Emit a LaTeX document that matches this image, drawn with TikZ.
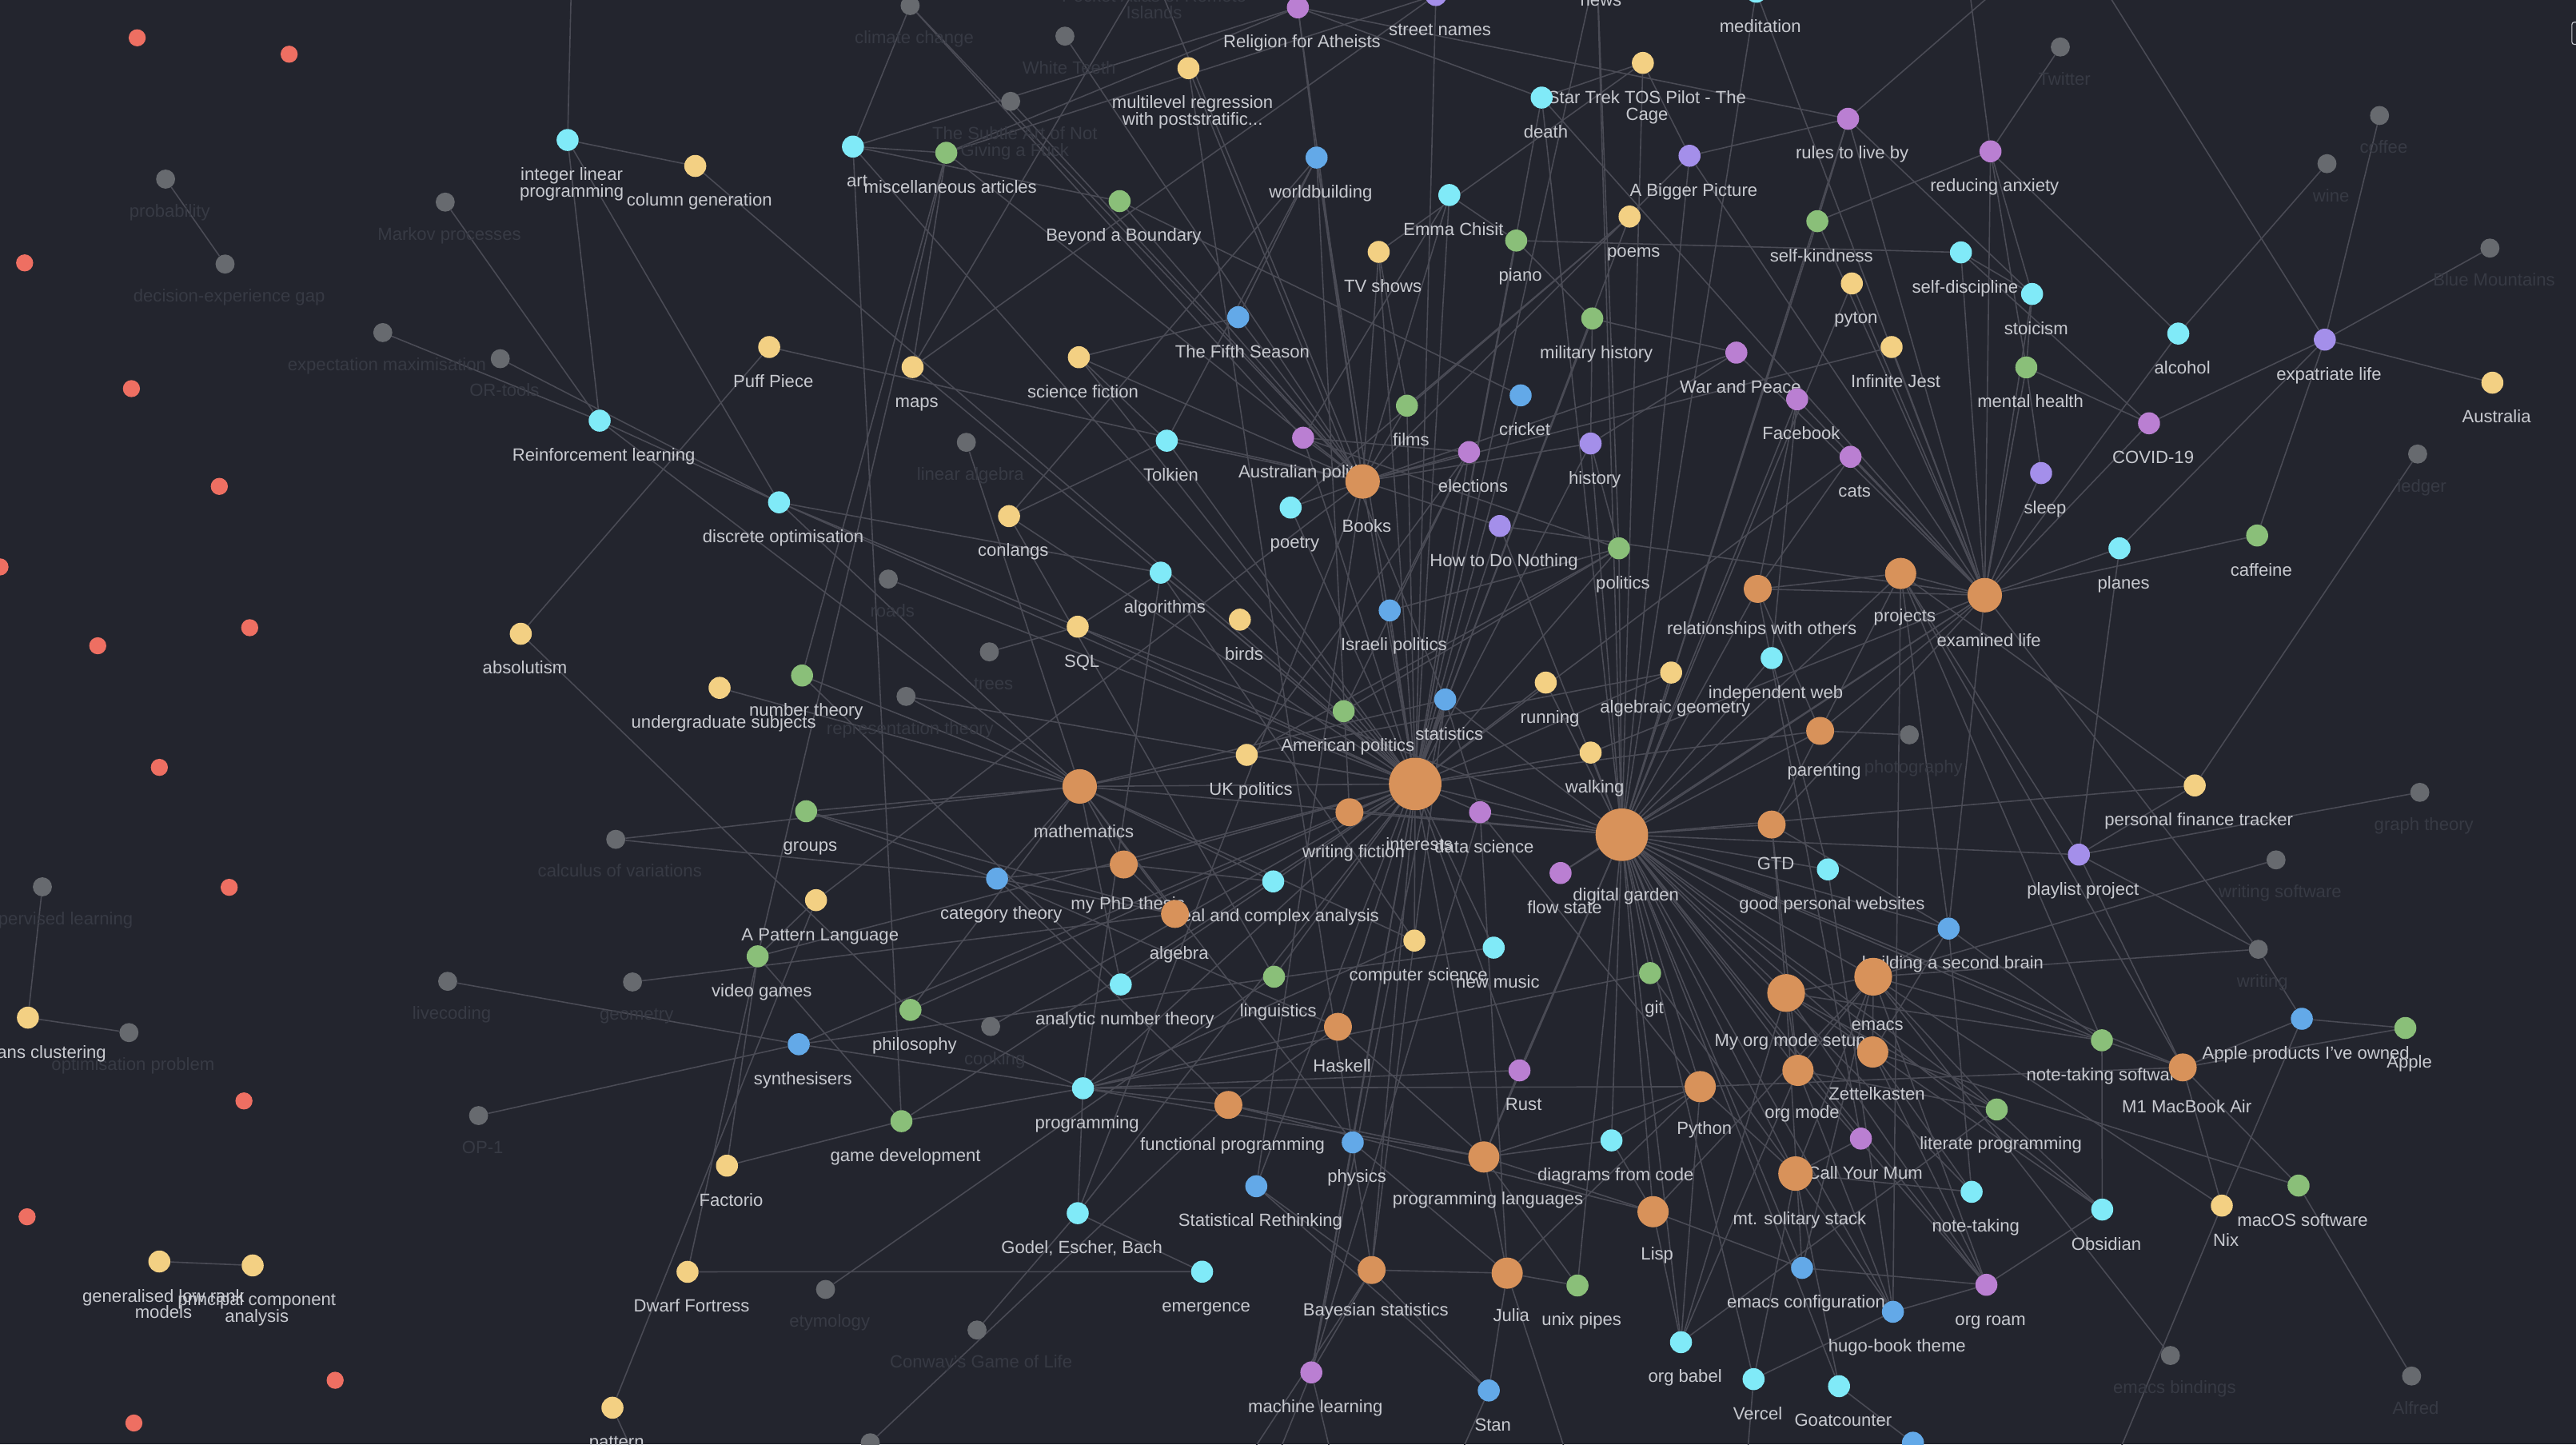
\documentclass[tikz,border=0pt]{standalone}
\usepackage{fontspec}
\setmainfont{Liberation Sans}
\usepackage{tikz}
\definecolor{bgcol}{HTML}{23252E}
\definecolor{edgecol}{HTML}{4A4B55}
\definecolor{lbltext}{HTML}{C8CAD0}
\definecolor{dimtext}{HTML}{373A44}
\definecolor{cOrange}{HTML}{D8925A}
\definecolor{cCyan}{HTML}{80EAF8}
\definecolor{cBlue}{HTML}{63A9E8}
\definecolor{cYellow}{HTML}{F3D083}
\definecolor{cGreen}{HTML}{8ABF79}
\definecolor{cMagenta}{HTML}{BA7FD2}
\definecolor{cViolet}{HTML}{A48FEA}
\definecolor{cGray}{HTML}{676A6F}
\definecolor{cRed}{HTML}{EE6F62}
\pgfdeclarelayer{background}
\pgfdeclarelayer{edges}
\pgfsetlayers{background,edges,main}
\tikzset{%
    r8/.style={minimum size=8.5mm},
    r9/.style={minimum size=9.5mm},
    r10/.style={minimum size=10.5mm},
    r11/.style={minimum size=11.5mm},
    r16/.style={minimum size=16mm},
    dot/.style={circle, inner sep=0pt, fill=#1, minimum size=6.7mm},
    gdot/.style={dot=cGray, minimum size=5.8mm},
    lbl/.style={font={\fontsize{15.3pt}{14.5pt}\selectfont}, text=lbltext,
        inner sep=0pt, anchor=base, xshift=1.25mm},
    l6/.style={lbl, yshift=-8.85mm},
    lg/.style={lbl, yshift=-8.55mm, text=dimtext},
    l8/.style={lbl, yshift=-9.5mm},
    l9/.style={lbl, yshift=-9.8mm},
    l10/.style={lbl, yshift=-10.2mm},
    l11/.style={lbl, yshift=-10.5mm},
    l16/.style={lbl, yshift=-12.1mm},
    t6/.style={lbl, anchor=north, align=center, yshift=-4.9mm},
    tg/.style={lbl, anchor=north, align=center, yshift=-4.6mm, text=dimtext},
    conn/.style={draw=edgecol, line width=1.1pt}
}
\begin{document}
\begin{tikzpicture}[x=0.05cm,y=-0.05cm]
    \useasboundingbox (0,0) rectangle (1568,879);
    \begin{pgfonlayer}{background}
    \fill[bgcol] (0,0) rectangle (1568,879);
    \end{pgfonlayer}
    \draw[lbltext, line width=0.8pt, rounded corners=2pt] (1565.5,13.5) rectangle (1580,27);

    % orphans
    \foreach \i/\x/\y in {1/83.5/23, 2/176/33, 3/15/160, 4/80/236.5, 5/133.5/296,
        6/0/345, 7/152/382, 8/59.5/393, 9/97/467, 10/139.5/540, 11/148.5/670,
        12/16.5/740.5, 13/204/840, 14/81.5/866}
    {
    \node[dot=cRed, minimum size=5.2mm] (red\i) at (\x,\y) {};
    }

    % unresolved links
    \node[gdot, label={[lg]below:climate change}] (clim) at (554,3.4) {};
    \node[gdot, label={[tg]below:{Pocket Atlas of Remote\\Islands}}] (atlas) at (700,-22) {};
    \node[gdot, label={[lg]below:White Teeth}] (wteeth) at (648.2,22) {};
    \node[gdot, label={[tg]below:{The Subtle Art of Not\\Giving a Fuck}}] (subtle) at (615.2,61.7) {};
    \node[gdot, label={[lg]below:linear algebra}] (linalg) at (588.2,269.2) {};
    \node[gdot, label={[lg]below:probability}] (prob) at (100.8,109) {};
    \node[gdot, label={[lg]below:decision-experience gap}] (deg) at (137,160.7) {};
    \node[gdot, label={[lg]below:Markov processes}] (markov) at (271,123) {};
    \node[gdot, label={[lg]below:expectation maximisation}] (em) at (233,202.4) {};
    \node[gdot, label={[lg]below:OR-tools}] (ortools) at (304.5,218.3) {};
    \node[gdot, label={[lg]below:roads}] (roads) at (540.7,352.4) {};
    \node[gdot, label={[lg]below:trees}] (trees) at (602.2,396.7) {};
    \node[gdot, label={[lg]below:representation theory}] (reprth) at (551.5,423.8) {};
    \node[gdot, label={[lg]below:calculus of variations}] (calcvar) at (374.8,510.8) {};
    \node[gdot, label={[lg]below:unsupervised learning}] (unsup) at (25.8,539.7) {};
    \node[gdot, label={[lg]below:optimisation problem}] (optprob) at (78.5,628.4) {};
    \node[gdot, label={[lg]below:livecoding}] (livecod) at (272.5,597.2) {};
    \node[gdot, label={[lg]below:geometry}] (geom) at (385,597.6) {};
    \node[gdot, label={[lg]below:OP-1}] (op1) at (291.3,678.9) {};
    \node[gdot, label={[lg]below:cooking}] (cooking) at (603,624.7) {};
    \node[gdot, label={[lg]below:etymology}] (etym) at (502.5,784.7) {};
    \node[gdot, label={[lg]below:Conway's Game of Life}] (conway) at (594.7,809.4) {};
    \node[gdot] (gbot) at (529.7,878) {};
    \node[gdot, label={[lg]below:Twitter}] (twitter) at (1254.1,28.6) {};
    \node[gdot, label={[lg]below:coffee}] (coffee) at (1448.4,70.3) {};
    \node[gdot, label={[lg]below:wine}] (wine) at (1416.4,99.6) {};
    \node[gdot, label={[lg]below:Blue Mountains}] (bluemt) at (1515.6,151) {};
    \node[gdot, label={[lg]below:ledger}] (ledger) at (1471.6,276.3) {};
    \node[gdot, label={[lg]below:photography}] (photo) at (1162.2,447.2) {};
    \node[gdot, label={[lg]below:graph theory}] (graphth) at (1472.9,482.2) {};
    \node[gdot, label={[lg]below:writing software}] (writsw) at (1385.4,523.3) {};
    \node[gdot, label={[lg]below:writing}] (writing) at (1374.6,577.7) {};
    \node[gdot, label={[lg]below:emacs bindings}] (ebind) at (1321.1,824.9) {};
    \node[gdot, label={[lg]below:Alfred}] (alfred) at (1467.9,837.4) {};

    % yellow notes
    \node[dot=cYellow, label={[t6]below:{Star Trek TOS Pilot - The\\Cage}}] (startrek) at (1000,38.3) {};
    \node[dot=cYellow, label={[t6]below:{multilevel regression\\with poststratific...}}] (multilevel) at (723.4,41.5) {};
    \node[dot=cYellow, label={[l6]below:column generation}] (colgen) at (423.2,101) {};
    \node[dot=cYellow, label={[l6]below:Puff Piece}] (puff) at (468.2,211.2) {};
    \node[dot=cYellow, label={[l6]below:maps}] (maps) at (555.5,223.4) {};
    \node[dot=cYellow, label={[l6]below:science fiction}] (scifi) at (656.7,217.4) {};
    \node[dot=cYellow, label={[l6]below:TV shows}] (tvshows) at (839.2,153.3) {};
    \node[dot=cYellow, label={[l6]below:poems}] (poems) at (991.9,131.8) {};
    \node[dot=cYellow, label={[l6]below:pyton}] (pyton) at (1127.2,172.5) {};
    \node[dot=cYellow, label={[l6]below:Infinite Jest}] (infjest) at (1151.4,211.2) {};
    \node[dot=cYellow, label={[l6]below:Australia}] (australia) at (1517.1,232.9) {};
    \node[dot=cYellow, label={[l6]below:conlangs}] (conlangs) at (614.2,314.1) {};
    \node[dot=cYellow, label={[l6]below:SQL}] (sql) at (656,381.4) {};
    \node[dot=cYellow, label={[l6]below:birds}] (birds) at (754.7,377.1) {};
    \node[dot=cYellow, label={[l6]below:absolutism}] (absol) at (317,385.7) {};
    \node[dot=cYellow, label={[l6]below:undergraduate subjects}] (undergrad) at (438,418.6) {};
    \node[dot=cYellow, label={[l6]below:UK politics}] (ukpol) at (758.9,459.4) {};
    \node[dot=cYellow, label={[l6]below:running}] (running) at (940.9,415.4) {};
    \node[dot=cYellow, label={[l6]below:algebraic geometry}] (alggeom) at (1017.2,409.3) {};
    \node[dot=cYellow, label={[l6]below:walking}] (walking) at (968.2,458) {};
    \node[dot=cYellow, label={[l6]below:personal finance tracker}] (pft) at (1335.9,478) {};
    \node[dot=cYellow, label={[l6]below:A Pattern Language}] (patlang) at (496.7,547.8) {};
    \node[dot=cYellow, label={[l6]below:computer science}] (compsci) at (860.9,572.4) {};
    \node[dot=cYellow, label={[l6]below:k-means clustering}] (kmeans) at (17,619.3) {};
    \node[dot=cYellow, label={[l6]below:Factorio}] (factorio) at (442.5,709.4) {};
    \node[dot=cYellow, label={[l6]below:Dwarf Fortress}] (dwarf) at (418.5,774) {};
    \node[dot=cYellow, label={[t6]below:{generalised low rank\\models}}] (glrm) at (97,767.7) {};
    \node[dot=cYellow, label={[t6]below:{principal component\\analysis}}] (pca) at (153.8,770.1) {};
    \node[dot=cYellow, label={[l6]below:pattern}] (pattern) at (372.8,856.7) {};
    \node[dot=cYellow, label={[l6]below:Nix}] (nix) at (1352.4,733.7) {};

    % cyan notes
    \node[dot=cCyan, label={[t6]below:{integer linear\\programming}}] (ilp) at (345.5,85.2) {};
    \node[dot=cCyan, label={[l6]below:Reinforcement learning}] (rl) at (365,256) {};
    \node[dot=cCyan, label={[l6]below:art}] (art) at (519.2,89.2) {};
    \node[dot=cCyan, label={[l6]below:death}] (death) at (938.4,59.4) {};
    \node[dot=cCyan, label={[l6]below:Emma Chisit}] (emma) at (882.2,118.7) {};
    \node[dot=cCyan, label={[l6]below:meditation}] (meditation) at (1069,-5) {};
    \node[dot=cCyan, label={[l6]below:news}] (news) at (972,-21) {};
    \node[dot=cCyan, label={[l6]below:self-discipline}] (selfdisc) at (1193.6,153.6) {};
    \node[dot=cCyan, label={[l6]below:stoicism}] (stoic) at (1236.9,178.9) {};
    \node[dot=cCyan, label={[l6]below:alcohol}] (alcohol) at (1325.9,203) {};
    \node[dot=cCyan, label={[l6]below:discrete optimisation}] (discopt) at (474.2,305.7) {};
    \node[dot=cCyan, label={[l6]below:Tolkien}] (tolkien) at (710.2,268.2) {};
    \node[dot=cCyan, label={[l6]below:poetry}] (poetry) at (785.6,308.9) {};
    \node[dot=cCyan, label={[l6]below:algorithms}] (algos) at (706.5,348.5) {};
    \node[dot=cCyan, label={[l6]below:independent web}] (indweb) at (1078.4,400.5) {};
    \node[dot=cCyan, label={[l6]below:planes}] (planes) at (1290.1,333.7) {};
    \node[dot=cCyan, label={[l6]below:real and complex analysis}] (realcx) at (775,536.4) {};
    \node[dot=cCyan, label={[l6]below:good personal websites}] (gpw) at (1112.6,529.1) {};
    \node[dot=cCyan, label={[l6]below:new music}] (newmusic) at (909.2,576.7) {};
    \node[dot=cCyan, label={[l6]below:analytic number theory}] (anumth) at (682.2,599.1) {};
    \node[dot=cCyan, label={[l6]below:programming}] (programming) at (659.2,662.3) {};
    \node[dot=cCyan, label={[l6]below:{Godel, Escher, Bach}}] (geb) at (656,738.3) {};
    \node[dot=cCyan, label={[l6]below:emergence}] (emergence) at (731.7,773.9) {};
    \node[dot=cCyan, label={[l6]below:diagrams from code}] (diagrams) at (980.9,694) {};
    \node[dot=cCyan, label={[l6]below:note-taking}] (notetaking) at (1200.1,725.3) {};
    \node[dot=cCyan, label={[l6]below:Obsidian}] (obsidian) at (1279.6,736.1) {};
    \node[dot=cCyan, label={[l6]below:org babel}] (orgbabel) at (1023.2,816.8) {};
    \node[dot=cCyan, label={[l6]below:Vercel}] (vercel) at (1067.4,839.3) {};
    \node[dot=cCyan, label={[l6]below:Goatcounter}] (goat) at (1119.4,843.6) {};

    % blue notes
    \node[dot=cBlue, label={[l6]below:worldbuilding}] (worldb) at (801.4,95.9) {};
    \node[dot=cBlue, label={[l6]below:The Fifth Season}] (fifth) at (753.7,193) {};
    \node[dot=cBlue, label={[l6]below:cricket}] (cricket) at (925.6,240.6) {};
    \node[dot=cBlue, label={[l6]below:Israeli politics}] (israeli) at (845.9,371.5) {};
    \node[dot=cBlue, label={[l6]below:statistics}] (stats) at (879.7,425.7) {};
    \node[dot=cBlue, label={[l6]below:category theory}] (cattheory) at (606.9,534.7) {};
    \node[dot=cBlue, label={[l6]below:synthesisers}] (synth) at (486.2,635.5) {};
    \node[dot=cBlue, label={[l6]below:Statistical Rethinking}] (statreth) at (764.7,721.9) {};
    \node[dot=cBlue, label={[l6]below:physics}] (physics) at (823.4,695.2) {};
    \node[dot=cBlue, label={[l6]below:building a second brain}] (bsb) at (1186.1,565.1) {};
    \node[dot=cBlue, label={[l6]below:Apple products I've owned}] (applep) at (1401.1,620) {};
    \node[dot=cBlue, label={[l6]below:emacs configuration}] (emacsconf) at (1096.9,771.6) {};
    \node[dot=cBlue, label={[l6]below:hugo-book theme}] (hugo) at (1152.2,798.3) {};
    \node[dot=cBlue, label={[l6]below:Stan}] (stan) at (906.2,846.2) {};
    \node[dot=cBlue] (bbot) at (1164.4,878) {};

    % green notes
    \node[dot=cGreen, label={[l6]below:miscellaneous articles}] (misc) at (576,93) {};
    \node[dot=cGreen, label={[l6]below:Beyond a Boundary}] (bab) at (681.5,122.4) {};
    \node[dot=cGreen, label={[l6]below:piano}] (piano) at (922.9,146.4) {};
    \node[dot=cGreen, label={[l6]below:self-kindness}] (selfkind) at (1106.2,134.6) {};
    \node[dot=cGreen, label={[l6]below:military history}] (milhist) at (969.2,193.8) {};
    \node[dot=cGreen, label={[l6]below:films}] (films) at (856.4,246.9) {};
    \node[dot=cGreen, label={[l6]below:mental health}] (mentalh) at (1233.4,223.6) {};
    \node[dot=cGreen, label={[l6]below:caffeine}] (caffeine) at (1373.9,325.9) {};
    \node[dot=cGreen, label={[l6]below:politics}] (politics) at (985.4,333.7) {};
    \node[dot=cGreen, label={[l6]below:number theory}] (numth) at (488.2,411.1) {};
    \node[dot=cGreen, label={[l6]below:American politics}] (ampol) at (817.9,432.8) {};
    \node[dot=cGreen, label={[l6]below:groups}] (groups) at (490.7,493.7) {};
    \node[dot=cGreen, label={[l6]below:video games}] (videog) at (461.2,582) {};
    \node[dot=cGreen, label={[l6]below:linguistics}] (linguistics) at (775.5,594.4) {};
    \node[dot=cGreen, label={[l6]below:philosophy}] (philosophy) at (554.2,614.6) {};
    \node[dot=cGreen, label={[l6]below:game development}] (gamedev) at (548.7,682.3) {};
    \node[dot=cGreen, label={[l6]below:git}] (git) at (1004.4,592.2) {};
    \node[dot=cGreen, label={[l6]below:unix pipes}] (unix) at (960.2,782.3) {};
    \node[dot=cGreen, label={[l6]below:note-taking software}] (notesw) at (1279.4,633.1) {};
    \node[dot=cGreen, label={[l6]below:Apple}] (apple) at (1464.1,625.6) {};
    \node[dot=cGreen, label={[l6]below:literate programming}] (litprog) at (1215.4,675.2) {};
    \node[dot=cGreen, label={[l6]below:macOS software}] (macos) at (1399.1,721.5) {};

    % magenta notes
    \node[dot=cMagenta, label={[l6]below:Religion for Atheists}] (religion) at (790,4.5) {};
    \node[dot=cMagenta, label={[l6]below:rules to live by}] (rules) at (1124.9,72.3) {};
    \node[dot=cMagenta, label={[l6]below:reducing anxiety}] (reduce) at (1211.6,92.1) {};
    \node[dot=cMagenta, label={[l6]below:War and Peace}] (warpeace) at (1056.9,214.6) {};
    \node[dot=cMagenta, label={[l6]below:Facebook}] (facebook) at (1093.9,243) {};
    \node[dot=cMagenta, label={[l6]below:cats}] (cats) at (1126.4,278) {};
    \node[dot=cMagenta, label={[l6]below:COVID-19}] (covid) at (1308.1,257.6) {};
    \node[dot=cMagenta, label={[l6]below:Australian politics}] (auspol) at (793.2,266.4) {};
    \node[dot=cMagenta, label={[l6]below:elections}] (elections) at (894.2,275.1) {};
    \node[dot=cMagenta, label={[l6]below:data science}] (datasci) at (900.9,494.3) {};
    \node[dot=cMagenta, label={[l6]below:flow state}] (flow) at (949.9,531.3) {};
    \node[dot=cMagenta, label={[l6]below:Rust}] (rust) at (924.9,651.4) {};
    \node[dot=cMagenta, label={[l6]below:Call Your Mum}] (callmum) at (1132.7,692.9) {};
    \node[dot=cMagenta, label={[l6]below:org roam}] (orgroam) at (1209.1,781.9) {};
    \node[dot=cMagenta, label={[l6]below:machine learning}] (ml) at (798.2,835.2) {};

    % violet notes
    \node[dot=cViolet, label={[l6]below:street names}] (street) at (874,-3) {};
    \node[dot=cViolet, label={[l6]below:A Bigger Picture}] (bigpic) at (1028.4,94.8) {};
    \node[dot=cViolet, label={[l6]below:history}] (history) at (968.2,269.9) {};
    \node[dot=cViolet, label={[l6]below:How to Do Nothing}] (howto) at (912.9,320.1) {};
    \node[dot=cViolet, label={[l6]below:expatriate life}] (expat) at (1415.1,206.7) {};
    \node[dot=cViolet, label={[l6]below:sleep}] (sleep) at (1242.4,287.9) {};
    \node[dot=cViolet, label={[l6]below:playlist project}] (playlist) at (1265.4,520.1) {};

    % orange hubs
    \node[dot=cOrange, r10, label={[l10]below:Books}] (books) at (829.4,293) {};
    \node[dot=cOrange, r8, label={[l8]below:relationships with others}] (rwo) at (1069.9,358.4) {};
    \node[dot=cOrange, r9, label={[l9]below:projects}] (projects) at (1156.9,349) {};
    \node[dot=cOrange, r10, label={[l10]below:examined life}] (examined) at (1208.1,362.2) {};
    \node[dot=cOrange, r8, label={[l8]below:parenting}] (parenting) at (1107.9,444.8) {};
    \node[dot=cOrange, r10, label={[l10]below:mathematics}] (maths) at (657.2,478.6) {};
    \node[dot=cOrange, r16, label={[l16]below:interests}] (interests) at (861.4,477.1) {};
    \node[dot=cOrange, r8, label={[l8]below:writing fiction}] (writfic) at (821.4,494.3) {};
    \node[dot=cOrange, r16, label={[l16]below:digital garden}] (dgarden) at (987.2,508) {};
    \node[dot=cOrange, r8, label={[l8]below:GTD}] (gtd) at (1078.4,501.8) {};
    \node[dot=cOrange, r8, label={[l8]below:my PhD thesis}] (phd) at (684,526.1) {};
    \node[dot=cOrange, r8, label={[l8]below:algebra}] (algebra) at (715.2,556.2) {};
    \node[dot=cOrange, r8, label={[l8]below:Haskell}] (haskell) at (814.4,624.9) {};
    \node[dot=cOrange, r8, label={[l8]below:functional programming}] (funcprog) at (747.7,672.4) {};
    \node[dot=cOrange, r11, label={[l11]below:My org mode setup}] (orgsetup) at (1087.2,604.3) {};
    \node[dot=cOrange, r11, label={[l11]below:emacs}] (emacs) at (1140.2,594.4) {};
    \node[dot=cOrange, r9, label={[l9]below:Zettelkasten}] (zettel) at (1139.9,640.2) {};
    \node[dot=cOrange, r9, label={[l9]below:org mode}] (orgmode) at (1094.4,651.4) {};
    \node[dot=cOrange, r9, label={[l9]below:Python}] (python) at (1034.9,661.3) {};
    \node[dot=cOrange, r9, label={[l9]below:programming languages}] (proglang) at (903.2,704.1) {};
    \node[dot=cOrange, r10, label={[l10]below:mt. solitary stack}] (mtsol) at (1092.9,714.2) {};
    \node[dot=cOrange, r9, label={[l9]below:Lisp}] (lisp) at (1006.2,737.4) {};
    \node[dot=cOrange, r8, label={[l8]below:Bayesian statistics}] (bayes) at (834.9,772.9) {};
    \node[dot=cOrange, r9, label={[l9]below:Julia}] (julia) at (917.4,774.8) {};
    \node[dot=cOrange, r8, label={[l8]below:M1 MacBook Air}] (m1) at (1328.6,649.6) {};

    % links leaving the view
    \coordinate (offILP) at (348,-20);
    \coordinate (offExpat) at (1276,-15);
    \coordinate (offReduce) at (1197,-20);
    \coordinate (offRules) at (1222,-12);
    \coordinate (offNix) at (1283,900);
    \coordinate (offB1) at (770,905);
    \coordinate (offB2) at (815,905);
    \coordinate (offB3) at (748,905);
    \coordinate (offB4) at (880,905);
    \coordinate (offB5) at (1062,905);
    \coordinate (offB6) at (960,905);
    \coordinate (offB7) at (395,905);

    \begin{pgfonlayer}{edges}
    \foreach \b in {books,maths,writfic,datasci,stats,ampol,ukpol,auspol,israeli,
        politics,elections,films,tvshows,cricket,history,milhist,poetry,conlangs,
        maps,algos,birds,running,walking,newmusic,compsci,programming,proglang,
        physics,philosophy,linguistics,videog,synth,gamedev,piano,death,street,ml,
        bayes,realcx,phd,howto,tolkien,worldb,scifi,alggeom,cooking,colgen,discopt,
        reprth,roads,parenting,news,emma,poems,cats,haskell,rust,geb,dgarden,sql,art}
    {
    \draw[conn] (interests) -- (\b);
    }
    \foreach \b in {gtd,projects,examined,rwo,parenting,indweb,gpw,bsb,orgsetup,
        emacs,zettel,orgmode,python,lisp,git,notetaking,diagrams,flow,walking,
        running,meditation,news,rules,startrek,callmum,mtsol,hugo,vercel,goat,
        obsidian,playlist,notesw,litprog,orgroam,pft,writfic,datasci,rust,unix,
        proglang,orgbabel,bigpic,selfkind,death,howto,politics,stats,pyton,
        facebook,m1,emacsconf,history,sql,maths,alggeom}
    {
    \draw[conn] (dgarden) -- (\b);
    }
    \foreach \b in {religion,wteeth,subtle,atlas,bab,fifth,tolkien,warpeace,infjest,
        bigpic,howto,geb,statreth,patlang,puff,emma,worldb,scifi,poetry,auspol,
        history,films,tvshows,misc,clim,elections}
    {
    \draw[conn] (books) -- (\b);
    }
    \foreach \b in {projects,rwo,rules,reduce,selfkind,selfdisc,stoic,mentalh,covid,
        sleep,meditation,caffeine,alcohol,planes,cats,facebook,warpeace,infjest,
        pyton,bigpic,death,walking,parenting,flow,gtd,bsb,writing,howto}
    {
    \draw[conn] (examined) -- (\b);
    }
    \foreach \b in {numth,groups,cattheory,algebra,realcx,anumth,alggeom,reprth,
        linalg,undergrad,phd,discopt,stats,physics,philosophy,rl,compsci,calcvar}
    {
    \draw[conn] (maths) -- (\b);
    }
    \foreach \b in {playlist,pft,bsb,gtd,rwo,m1,notesw,hugo}
    {
    \draw[conn] (projects) -- (\b);
    }
    \foreach \a/\b in {rwo/parenting,rwo/callmum,rwo/facebook,rwo/cats,
        proglang/python,proglang/rust,proglang/julia,proglang/lisp,proglang/haskell,
        proglang/funcprog,proglang/programming,proglang/diagrams,proglang/unix,
        programming/python,programming/funcprog,programming/synth,
        programming/philosophy,programming/gamedev,programming/algos,
        programming/compsci,programming/git,programming/geb,programming/haskell,
        programming/rust,python/datasci,python/diagrams,python/m1,python/orgbabel,
        python/julia,python/mtsol,julia/stan,julia/bayes,julia/datasci,julia/unix,
        lisp/emacs,lisp/funcprog,lisp/orgbabel,lisp/diagrams,lisp/emacsconf,
        haskell/funcprog,haskell/cattheory,funcprog/cattheory,funcprog/gbot,
        bayes/stats,bayes/statreth,bayes/stan,bayes/ml,bayes/multilevel,
        stats/datasci,stats/statreth,stats/multilevel,stats/ml,datasci/ml,
        statreth/stan,ml/physics,physics/julia}
    {
    \draw[conn] (\a) -- (\b);
    }
    \foreach \a/\b in {emacs/orgsetup,emacs/orgmode,emacs/zettel,emacs/emacsconf,
        emacs/orgroam,emacs/litprog,emacs/notesw,emacs/ebind,emacs/writsw,
        emacs/writing,emacs/nix,emacs/mtsol,emacs/bsb,orgsetup/orgmode,
        orgsetup/orgroam,orgsetup/orgbabel,orgsetup/litprog,orgsetup/gtd,
        orgsetup/zettel,orgsetup/emacsconf,orgsetup/notesw,orgmode/orgbabel,
        orgmode/litprog,orgmode/gtd,orgmode/hugo,orgmode/orgroam,zettel/bsb,
        zettel/notetaking,zettel/orgroam,zettel/obsidian,zettel/macos,mtsol/hugo,
        mtsol/vercel,mtsol/goat,mtsol/git,mtsol/callmum,mtsol/notetaking,
        hugo/vercel,hugo/gpw,hugo/orgroam,goat/bbot,orgroam/obsidian,
        orgroam/emacsconf,bsb/notetaking,bsb/notesw,bsb/gtd,litprog/obsidian,
        litprog/orgbabel,notesw/obsidian,notesw/m1,applep/apple,applep/m1,
        applep/nix,applep/writing,m1/apple,m1/macos,m1/nix,m1/playlist,
        macos/alfred,nix/offNix,gpw/indweb,indweb/facebook}
    {
    \draw[conn] (\a) -- (\b);
    }
    \foreach \a/\b in {rules/selfkind,rules/stoic,rules/bigpic,rules/religion,
        rules/offRules,reduce/offReduce,
        reduce/twitter,reduce/alcohol,reduce/stoic,reduce/mentalh,reduce/selfkind,
        selfdisc/stoic,selfdisc/piano,selfdisc/covid,mentalh/covid,mentalh/sleep,
        mentalh/stoic,expat/coffee,expat/bluemt,expat/australia,expat/covid,
        expat/planes,expat/caffeine,expat/offExpat,alcohol/wine,ledger/pft,
        pft/playlist,playlist/graphth,playlist/planes,playlist/writing,
        photo/parenting,warpeace/milhist,warpeace/history,milhist/history,
        milhist/piano,bab/cricket,art/bab,emma/piano,emma/auspol,startrek/bigpic,
        startrek/tvshows,startrek/death,religion/death,tvshows/films,poems/films,
        poems/poetry,elections/auspol,elections/ampol,elections/ukpol,
        elections/israeli,politics/ampol,politics/ukpol,politics/auspol,
        politics/israeli,politics/news,history/politics}
    {
    \draw[conn] (\a) -- (\b);
    }
    \foreach \a/\b in {worldb/fifth,worldb/tolkien,worldb/writfic,worldb/conlangs,
        worldb/religion,fifth/scifi,tolkien/conlangs,tolkien/scifi,misc/art,
        misc/religion,misc/street,misc/videog,misc/maps,misc/numth,art/clim,
        art/religion,art/gamedev,clim/auspol,atlas/maps,street/maps,puff/absol,
        absol/philosophy,ilp/colgen,ilp/rl,ilp/discopt,ilp/offILP,rl/markov,rl/em,
        rl/discopt,discopt/ortools,prob/deg,sql/trees,sql/algos,sql/discopt,
        algos/compsci,algos/discopt,numth/anumth,groups/algebra,groups/cattheory,
        cattheory/calcvar,cattheory/phd,cattheory/algebra,phd/realcx,phd/algebra,
        anumth/realcx,algebra/geom,videog/gamedev,videog/factorio,videog/dwarf,
        factorio/gamedev,dwarf/emergence,geb/emergence,geb/conway,synth/newmusic,
        synth/op1,synth/livecod,linguistics/conlangs,linguistics/etym,kmeans/unsup,
        kmeans/optprob,glrm/pca,pattern/patlang,patlang/videog,ml/offB1,ml/offB2,
        bayes/offB3,stan/offB4,vercel/offB5,julia/offB6,pattern/offB7}
    {
    \draw[conn] (\a) -- (\b);
    }
    \end{pgfonlayer}
\end{tikzpicture}
\end{document}
